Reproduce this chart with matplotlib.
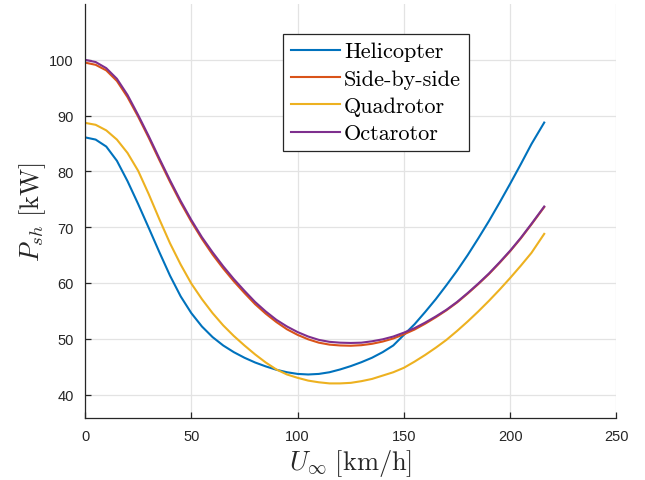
import matplotlib
matplotlib.use('Agg')
import matplotlib.pyplot as plt

# forward speed [km/h]
speed = [0, 5, 10, 15, 20, 25, 30, 35, 40, 45, 50, 55, 60, 65, 70, 75, 80, 85, 90, 95,
         100, 105, 110, 115, 120, 125, 130, 135, 140, 145, 150, 155, 160, 165, 170, 175,
         180, 185, 190, 195, 200, 205, 210, 216]

# shaft power [kW] for each configuration
helicopter = [86.1, 85.7, 84.45, 81.9, 78.25, 74.15, 69.85, 65.5, 61.3, 57.6, 54.6, 52.2, 50.3, 48.8,
              47.6, 46.6, 45.75, 45.05, 44.45, 44.0, 43.7, 43.6, 43.7, 44.0, 44.5, 45.1, 45.8, 46.6,
              47.6, 48.8, 50.7, 52.6, 54.8, 57.1, 59.6, 62.2, 65.0, 68.0, 71.1, 74.4, 77.8, 81.3,
              84.9, 88.75]
side_by_side = [99.5, 99.1, 98.1, 96.2, 93.3, 89.8, 86.0, 82.0, 78.1, 74.4, 71.0, 67.9, 65.1, 62.6,
                60.3, 58.2, 56.2, 54.5, 53.0, 51.7, 50.7, 49.9, 49.3, 48.95, 48.8, 48.75, 48.85, 49.1,
                49.5, 50.05, 50.8, 51.65, 52.7, 53.85, 55.1, 56.5, 58.1, 59.8, 61.6, 63.6, 65.7, 68.0,
                70.5, 73.6]
quadrotor = [88.7, 88.35, 87.35, 85.7, 83.3, 80.1, 75.9, 71.4, 67.1, 63.3, 59.9, 57.1, 54.6, 52.4,
             50.5, 48.8, 47.2, 45.75, 44.5, 43.6, 43.0, 42.5, 42.2, 42.0, 42.0, 42.1, 42.4, 42.8,
             43.4, 44.0, 44.8, 45.9, 47.1, 48.4, 49.8, 51.4, 53.1, 54.9, 56.8, 58.8, 60.9, 63.1,
             65.4, 68.8]
octarotor = [100.0, 99.6, 98.5, 96.6, 93.7, 90.1, 86.3, 82.3, 78.4, 74.7, 71.3, 68.2, 65.5, 63.0,
             60.7, 58.6, 56.6, 54.9, 53.4, 52.2, 51.2, 50.4, 49.8, 49.45, 49.3, 49.25, 49.3, 49.55,
             49.9, 50.4, 51.1, 51.9, 52.9, 54.0, 55.2, 56.6, 58.2, 59.9, 61.7, 63.7, 65.8, 68.1,
             70.6, 73.7]

labels = ['Helicopter', 'Side-by-side', 'Quadrotor', 'Octarotor']
colors = ['#0072BD', '#D95319', '#EDB120', '#7E2F8E']

plt.rcParams['mathtext.fontset'] = 'cm'
plt.rcParams['font.family'] = 'Liberation Sans'

fig = plt.figure(figsize=(6.45, 4.81), dpi=100)
ax = fig.add_axes([0.1318, 0.1289, 0.8240, 0.8607])

for series, lab, col in zip([helicopter, side_by_side, quadrotor, octarotor], labels, colors):
    ax.plot(speed, series, color=col, linewidth=1.5, label=lab, solid_joinstyle='round')

ax.set_xlim(0, 250)
ax.set_ylim(35.8, 110)
ax.set_xticks([0, 50, 100, 150, 200, 250])
ax.set_yticks([40, 50, 60, 70, 80, 90, 100])
ax.grid(True, color='#e3e3e3', linewidth=0.9)
ax.set_axisbelow(True)

# matlab-ish axes: only left and bottom lines, ticks pointing in
ax.spines['top'].set_visible(False)
ax.spines['right'].set_visible(False)
for s in ['left', 'bottom']:
    ax.spines[s].set_color('#262626')
    ax.spines[s].set_linewidth(0.9)
ax.tick_params(direction='in', length=4, width=0.9, colors='#262626', labelsize=10.5, pad=8)

ax.set_xlabel(r'$U_\infty\ [\mathrm{km/h}]$', fontsize=19, color='#262626', labelpad=3)
ax.set_ylabel(r'$P_{sh}\ [\mathrm{kW}]$', fontsize=19, color='#262626', labelpad=1)

leg = ax.legend(loc='upper left', bbox_to_anchor=(0.3725, 0.9275), prop={'family': 'cmr10', 'size': 16},
                handlelength=2.2, handletextpad=0.2, labelspacing=0.35, borderpad=0.35,
                borderaxespad=0, fancybox=False, framealpha=1, edgecolor='#262626')
leg.get_frame().set_linewidth(0.9)

fig.savefig('out.png', dpi=100)
